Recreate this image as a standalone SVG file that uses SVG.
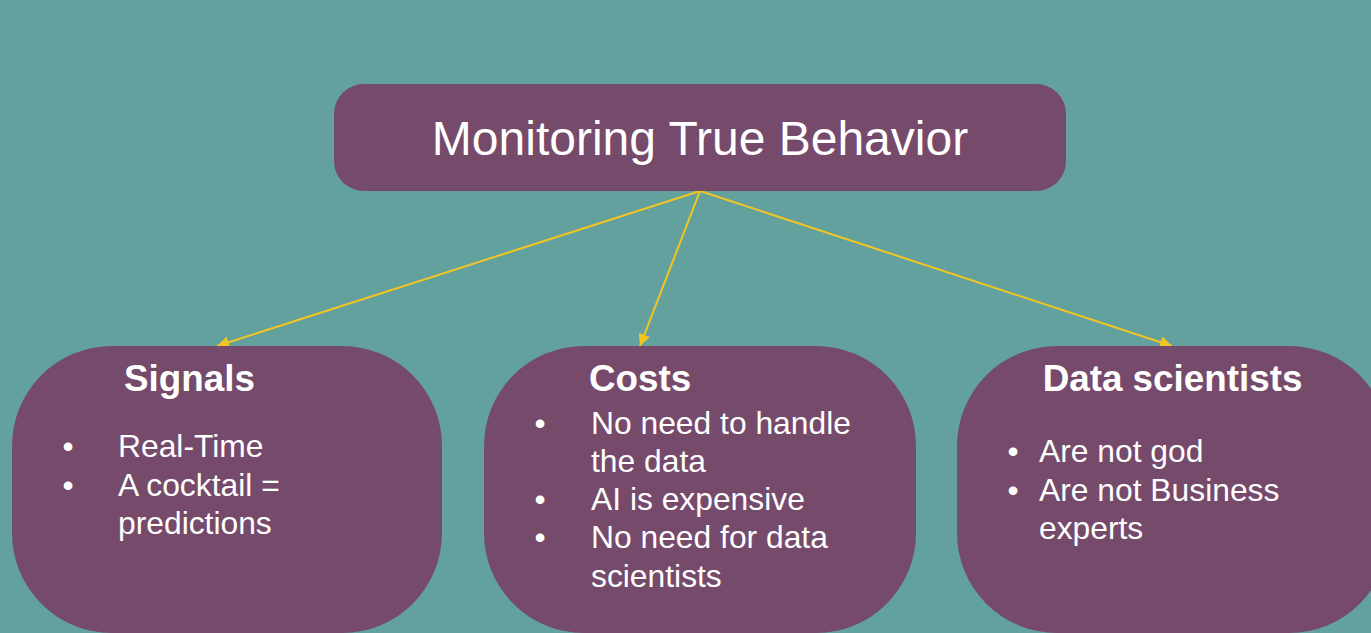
<svg xmlns="http://www.w3.org/2000/svg" width="1371" height="633" viewBox="0 0 1371 633">
<style>
.box{fill:#764A6A}
.t{font-family:"Liberation Sans",Arial,sans-serif;fill:#ffffff}
.h{font-size:36.8px;font-weight:bold;text-anchor:middle}
.b{font-size:31.8px}
.c{stroke:#F2C523;stroke-width:2;fill:none}
</style>
<defs>
<marker id="ah" viewBox="0 0 10 10" refX="10" refY="5" markerWidth="6" markerHeight="6" orient="auto" markerUnits="strokeWidth">
<path d="M0,0 L10,5 L0,10 z" fill="#F2C523"/>
</marker>
</defs>
<rect width="1371" height="633" fill="#62A19D"/>
<g id="connectors">
<line class="c" x1="700" y1="191" x2="217" y2="346" marker-end="url(#ah)"/>
<line class="c" x1="700" y1="191" x2="640" y2="346" marker-end="url(#ah)"/>
<line class="c" x1="700" y1="191" x2="1172" y2="346" marker-end="url(#ah)"/>
</g>
<g id="root">
<rect class="box" x="334" y="84" width="732" height="107" rx="30"/>
<text class="t" x="700" y="155" font-size="48" text-anchor="middle">Monitoring True Behavior</text>
</g>
<g id="signals">
<rect class="box" x="12" y="346" width="430" height="287" rx="100"/>
<text class="t h" x="189.5" y="391">Signals</text>
<text class="t b" x="68" y="457" text-anchor="middle">•</text>
<text class="t b" x="118" y="457">Real-Time</text>
<text class="t b" x="68" y="496" text-anchor="middle">•</text>
<text class="t b" x="118" y="496">A cocktail =</text>
<text class="t b" x="118" y="534">predictions</text>
</g>
<g id="costs">
<rect class="box" x="484" y="346" width="432" height="287" rx="100"/>
<text class="t h" x="640" y="391">Costs</text>
<text class="t b" x="540" y="434" text-anchor="middle">•</text>
<text class="t b" x="591" y="434">No need to handle</text>
<text class="t b" x="591" y="472">the data</text>
<text class="t b" x="540" y="510" text-anchor="middle">•</text>
<text class="t b" x="591" y="510">AI is expensive</text>
<text class="t b" x="540" y="548" text-anchor="middle">•</text>
<text class="t b" x="591" y="548">No need for data</text>
<text class="t b" x="591" y="587">scientists</text>
</g>
<g id="data-scientists">
<rect class="box" x="957" y="346" width="432" height="287" rx="100"/>
<text class="t h" x="1172.5" y="391">Data scientists</text>
<text class="t b" x="1013" y="462" text-anchor="middle">•</text>
<text class="t b" x="1039" y="462">Are not god</text>
<text class="t b" x="1013" y="501" text-anchor="middle">•</text>
<text class="t b" x="1039" y="501">Are not Business</text>
<text class="t b" x="1039" y="539">experts</text>
</g>
</svg>
